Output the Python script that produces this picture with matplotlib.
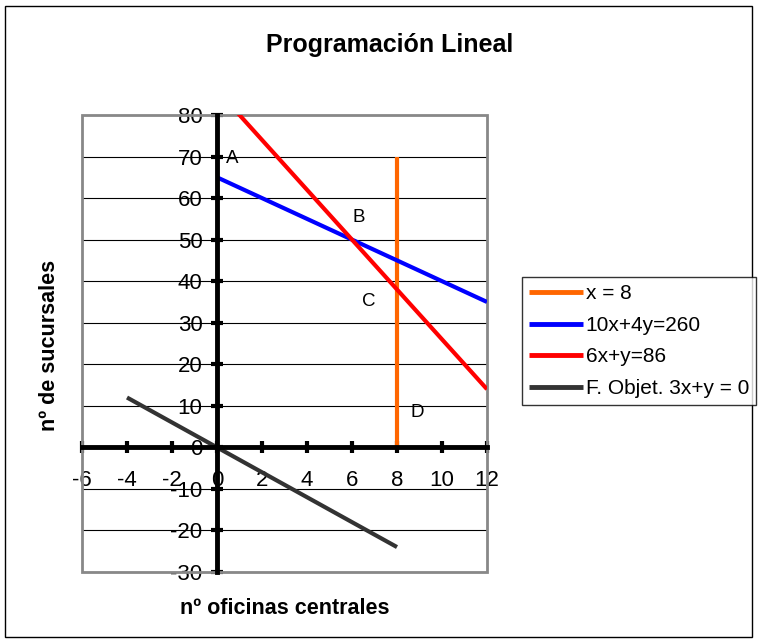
import matplotlib
matplotlib.use("Agg")
import matplotlib.pyplot as plt
from matplotlib.patches import Rectangle

plt.rcParams['font.family'] = ['Liberation Sans', 'DejaVu Sans']

title = "Programación Lineal"
xlabel = "nº oficinas centrales"
ylabel = "nº de sucursales"

series_names = ["x = 8", "10x+4y=260", "6x+y=86", "F. Objet. 3x+y = 0"]
series_x = [[8, 8], [0, 12], [0, 12], [-4, 8]]
series_y = [[0, 70], [65, 35], [86, 14], [12, -24]]
series_colors = ["#FF6600", "#0000FF", "#FF0000", "#333333"]

point_labels = ["A", "B", "C", "D"]
point_x = [0.4, 6.0, 6.45, 8.6]
point_y = [69.6, 55.4, 35, 8.3]

xticks = list(range(-6, 13, 2))
yticks = list(range(-30, 81, 10))

fig = plt.figure(figsize=(7.58, 6.43), dpi=100)
fig.patches.append(Rectangle((5/758, 6/643), 747/758, 631/643, transform=fig.transFigure,
                             fill=False, edgecolor='black', linewidth=1))
ax = fig.add_axes([82/758, 1-572/643, 405/758, 457/643])
ax.set_xlim(-6, 12)
ax.set_ylim(-30, 80)

for yv in yticks:
    ax.axhline(yv, color='black', linewidth=0.8, zorder=1)

for nm, xs, ys, c in zip(series_names, series_x, series_y, series_colors):
    ax.plot(xs, ys, color=c, linewidth=3, label=nm, zorder=3, solid_capstyle='butt')

for t, px, py in zip(point_labels, point_x, point_y):
    ax.text(px, py, t, fontsize=13.5, ha='left', va='center', zorder=5)

ax.spines['left'].set_position(('data', 0))
ax.spines['bottom'].set_position(('data', 0))
for s in ['left', 'bottom']:
    ax.spines[s].set_linewidth(3.5)
    ax.spines[s].set_zorder(4)
for s in ['top', 'right']:
    ax.spines[s].set_visible(False)
ax.add_patch(Rectangle((0, 0), 1, 1, transform=ax.transAxes, fill=False,
                       edgecolor='#888888', linewidth=2, zorder=2, clip_on=False))

ax.set_xticks(xticks)
ax.set_yticks(yticks)
ax.set_xticklabels([str(v) for v in xticks])
ax.set_yticklabels([str(v) for v in yticks])
ax.tick_params(axis='both', direction='inout', length=9, width=3, labelsize=16, colors='black')
ax.tick_params(axis='x', pad=12)
ax.tick_params(axis='y', pad=6)
for lbl in ax.get_xticklabels() + ax.get_yticklabels():
    lbl.set_zorder(6)

fig.text(390/758, 1-45/643, title, fontsize=18, fontweight='bold', ha='center', va='center')
fig.text(284.5/758, 1-609/643, xlabel, fontsize=15.5, fontweight='bold', ha='center', va='center')
fig.text(50/758, 1-345/643, ylabel, fontsize=15.5, fontweight='bold', ha='center', va='center', rotation=90)

leg = fig.legend(loc='upper left', bbox_to_anchor=(522/758, 1-277/643), fontsize=15,
                 frameon=True, fancybox=False, edgecolor='black', handlelength=2.6,
                 handletextpad=0.1, borderpad=0.35, labelspacing=0.6, borderaxespad=0)
leg.get_frame().set_linewidth(1)
for ln in leg.get_lines():
    ln.set_linewidth(3.5)

fig.savefig("out.png", dpi=100)
